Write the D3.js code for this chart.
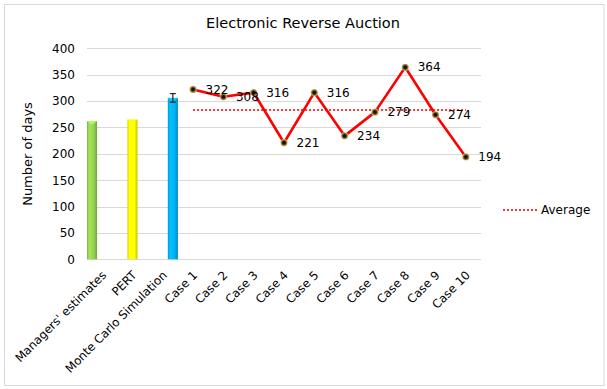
<!DOCTYPE html>
<meta charset="utf-8">
<style>
body { margin: 0; background: #fff; }
svg { font-family: "DejaVu Sans", Verdana, sans-serif; }
.grid line { stroke: #d9d9d9; stroke-width: 1; shape-rendering: crispEdges; }
.tick text { fill: #000; }
</style>
<body>
<script src="https://cdn.jsdelivr.net/npm/d3@7"></script>
<script>

var categories = ["Managers' estimates", "PERT", "Monte Carlo Simulation",
  "Case 1", "Case 2", "Case 3", "Case 4", "Case 5", "Case 6", "Case 7", "Case 8", "Case 9", "Case 10"];
var barNames = ["Managers' estimates", "PERT", "Monte Carlo Simulation"];
var barValues = [262, 265, 306];
var barErrors = [0, 0, 8];
var barColors = ["#92d050", "#ffff00", "#00b0f0"];
var caseNames = categories.slice(3);
var caseValues = [322, 308, 316, 221, 316, 234, 279, 364, 274, 194];
var yTicks = [0, 50, 100, 150, 200, 250, 300, 350, 400];

var width = 607, height = 389;
var plotLeft = 87, plotRight = 481, plotTop = 48.3, plotBottom = 259.3;

var average = d3.mean(caseValues);

var svg = d3.select("body").append("svg")
    .attr("width", width)
    .attr("height", height);

// bar shading
var defs = svg.append("defs");
barColors.forEach(function(c, i) {
  var g = defs.append("linearGradient").attr("id", "bar" + i);
  g.append("stop").attr("offset", "0%").attr("stop-color", d3.color(c).darker(0.5));
  g.append("stop").attr("offset", "20%").attr("stop-color", d3.color(c).brighter(0.3));
  g.append("stop").attr("offset", "70%").attr("stop-color", c);
  g.append("stop").attr("offset", "100%").attr("stop-color", d3.color(c).darker(0.7));
});
var mg = defs.append("radialGradient").attr("id", "marker");
mg.append("stop").attr("offset", "35%").attr("stop-color", "#111");
mg.append("stop").attr("offset", "70%").attr("stop-color", "#8a7434");
mg.append("stop").attr("offset", "100%").attr("stop-color", "#d9bd6a");

svg.append("rect")
    .attr("x", 4.5).attr("y", 4.5)
    .attr("width", 599.5).attr("height", 381)
    .attr("fill", "#fff")
    .attr("stroke", "#d9d9d9");

var x = d3.scaleBand()
    .domain(categories)
    .range([plotLeft, plotRight])
    .padding(0);

var xs = d3.scaleBand()
    .domain(barNames)
    .range([0, x.bandwidth()])
    .padding(0);

var y = d3.scaleLinear()
    .domain([0, 400])
    .range([plotBottom, plotTop]);

// gridlines
svg.append("g")
    .attr("class", "grid")
    .selectAll("line")
    .data(yTicks)
    .enter().append("line")
    .attr("x1", plotLeft).attr("x2", plotRight)
    .attr("y1", function(d) { return Math.round(y(d)) + 0.5; })
    .attr("y2", function(d) { return Math.round(y(d)) + 0.5; });

// y axis labels
var yAxis = svg.append("g")
    .attr("transform", "translate(" + plotLeft + ",0)")
    .call(d3.axisLeft(y).tickValues(yTicks).tickSize(0).tickPadding(12));
yAxis.select(".domain").remove();
yAxis.selectAll("text").style("font-size", "12px").style("font-family", "DejaVu Sans");

svg.append("text")
    .attr("transform", "translate(32,154) rotate(-90)")
    .attr("text-anchor", "middle")
    .style("font-size", "13px")
    .text("Number of days");

// x labels
svg.append("g")
    .selectAll("text")
    .data(categories)
    .enter().append("text")
    .attr("transform", function(d) {
      return "translate(" + (x(d) + x.bandwidth() / 2 + 2) + ",273) rotate(-45)";
    })
    .attr("text-anchor", "end")
    .attr("dy", "0.35em")
    .style("font-size", "11.8px")
    .text(function(d) { return d; });

// bars
var bars = svg.append("g")
    .selectAll("g")
    .data(barNames)
    .enter().append("g");

bars.append("rect")
    .attr("x", function(d) { return x(d) + xs(d); })
    .attr("width", xs.bandwidth())
    .attr("y", function(d, i) { return y(barValues[i]); })
    .attr("height", function(d, i) { return y(0) - y(barValues[i]); })
    .attr("fill", function(d, i) { return "url(#bar" + i + ")"; });

// little bevel at the top of each bar
bars.append("path")
    .attr("d", function(d, i) {
      var x0 = x(d) + xs(d), w = xs.bandwidth(), t = y(barValues[i]);
      return "M" + x0 + "," + t + "L" + (x0 + w) + "," + t + "L" + (x0 + w / 2) + "," + (t + 4) + "Z";
    })
    .attr("fill", function(d, i) { return d3.color(barColors[i]).brighter(0.6); })
    .attr("opacity", 0.8);

// error bars
var err = svg.append("g")
    .attr("stroke", "#000")
    .attr("stroke-width", 1)
    .selectAll("g")
    .data(barNames.filter(function(d, i) { return barErrors[i] > 0; }))
    .enter().append("g");
err.each(function(d) {
  var i = barNames.indexOf(d),
      cx = x(d) + xs(d) + xs.bandwidth() / 2,
      g = d3.select(this);
  g.append("line").attr("x1", cx).attr("x2", cx)
      .attr("y1", y(barValues[i] + barErrors[i])).attr("y2", y(barValues[i] - barErrors[i]));
  [barValues[i] + barErrors[i], barValues[i] - barErrors[i]].forEach(function(v) {
    g.append("line").attr("x1", cx - 3).attr("x2", cx + 3)
        .attr("y1", y(v)).attr("y2", y(v));
  });
});

// average line
svg.append("line")
    .attr("x1", x(caseNames[0]) + x.bandwidth() / 2)
    .attr("x2", x(caseNames[caseNames.length - 1]) + x.bandwidth() / 2)
    .attr("y1", y(average)).attr("y2", y(average))
    .attr("stroke", "#f23a3a")
    .attr("stroke-width", 2)
    .attr("stroke-dasharray", "2,2");

// case line
var line = d3.line()
    .x(function(d, i) { return x(caseNames[i]) + x.bandwidth() / 2; })
    .y(function(d) { return y(d); });

svg.append("path")
    .datum(caseValues)
    .attr("d", line)
    .attr("fill", "none")
    .attr("stroke", "#ff0000")
    .attr("stroke-width", 2.6)
    .attr("stroke-linejoin", "round");

svg.append("g")
    .selectAll("circle")
    .data(caseValues)
    .enter().append("circle")
    .attr("cx", function(d, i) { return x(caseNames[i]) + x.bandwidth() / 2; })
    .attr("cy", function(d) { return y(d); })
    .attr("r", 3.6)
    .attr("fill", "url(#marker)");

svg.append("g")
    .selectAll("text")
    .data(caseValues)
    .enter().append("text")
    .attr("x", function(d, i) { return x(caseNames[i]) + x.bandwidth() / 2 + 12.5; })
    .attr("y", function(d) { return y(d); })
    .attr("dy", "0.35em")
    .style("font-size", "12px")
    .text(function(d) { return d; });

// title
svg.append("text")
    .attr("x", 303)
    .attr("y", 28)
    .attr("text-anchor", "middle")
    .style("font-size", "14.5px")
    .text("Electronic Reverse Auction");

// legend
svg.append("line")
    .attr("x1", 503).attr("x2", 537)
    .attr("y1", 210).attr("y2", 210)
    .attr("stroke", "#f23a3a")
    .attr("stroke-width", 2)
    .attr("stroke-dasharray", "2,2");
svg.append("text")
    .attr("x", 541)
    .attr("y", 210)
    .attr("dy", "0.35em")
    .style("font-size", "12px")
    .text("Average");

</script>
